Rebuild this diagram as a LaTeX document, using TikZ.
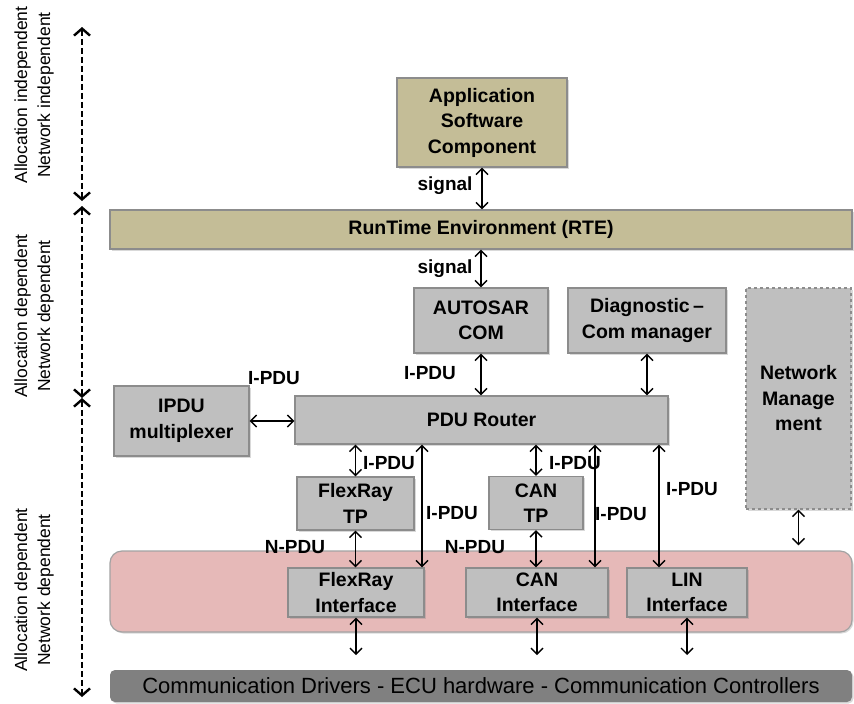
\documentclass[tikz,border=0pt]{standalone}
\usepackage{fontspec}
\setmainfont{Liberation Sans}
\usetikzlibrary{arrows.meta,shadows}
\definecolor{tanfill}{HTML}{C4BD97}
\definecolor{boxgrey}{HTML}{BFBFBF}
\definecolor{edgegrey}{HTML}{8C8C8C}
\definecolor{busred}{HTML}{E6B9B8}
\definecolor{hwgrey}{HTML}{808080}
\begin{document}
\begin{tikzpicture}[x=1pt, y=-1pt,
  every node/.style={font=\fontsize{19.5}{25.5}\selectfont\bfseries, align=center, inner sep=0pt},
  blk/.style={draw=edgegrey, line width=1.2pt, fill=boxgrey, drop shadow={shadow xshift=1.5pt, shadow yshift=-1.5pt, opacity=.3}},
  tanblk/.style={blk, fill=tanfill},
  lbl/.style={font=\fontsize{19}{23}\selectfont\bfseries},
  side/.style={font=\fontsize{17.5}{23}\selectfont, rotate=90},
  bi/.style={{Straight Barb[length=6pt,width=12pt]}-{Straight Barb[length=6pt,width=12pt]}, line width=1.4pt},
  lvl/.style={{Straight Barb[length=7pt,width=16pt]}-{Straight Barb[length=7pt,width=16pt]}, line width=2.4pt, dash pattern=on 6pt off 3pt}]
\useasboundingbox (0,0) rectangle (854,704);
% level markers on the left
\coordinate (t0) at (82,27);
\coordinate (t1) at (82,201);
\coordinate (t2) at (82,206);
\coordinate (t3) at (82,398);
\coordinate (t4) at (82,697);
\draw[lvl] (t0) -- (t1);
\draw[lvl] (t2) -- (t3);
\draw[lvl] (t3) -- (t4);
\node[side] (s1) at (34,95) {Allocation independent\\Network independent};
\node[side] (s2) at (34,316) {Allocation dependent\\Network dependent};
\node[side] (s3) at (34,590) {Allocation dependent\\Network dependent};
% upper layers
\node[tanblk, minimum width=170pt, minimum height=89pt] (asc) at (482,122.5) {Application\\Software\\Component};
\node[tanblk, minimum width=742pt, minimum height=39pt] (rte) at (481,229.5) {RunTime Environment (RTE)};
\node[blk, minimum width=134pt, minimum height=65pt] (com) at (481,320.5) {AUTOSAR\\COM};
\node[blk, minimum width=158pt, minimum height=65pt] (dcm) at (647,320.5) {Diagnostic\,--\\Com manager};
\node[blk, dashed, minimum width=105pt, minimum height=221pt] (nm) at (798.5,398.5) {Network\\Manage\\ment};
\node[blk, minimum width=135pt, minimum height=70pt] (mux) at (181.5,421) {IPDU\\multiplexer};
\node[blk, minimum width=373pt, minimum height=48pt] (router) at (481.5,420) {PDU Router};
\node[blk, minimum width=117pt, minimum height=53pt] (ftp) at (355.5,503.5) {FlexRay\\TP};
\node[blk, minimum width=94pt, minimum height=53pt] (ctp) at (536,503) {CAN\\TP};
% interface layer
\node[draw=edgegrey!80, line width=1.2pt, fill=busred, rounded corners=12pt, minimum width=742pt, minimum height=81pt,
  drop shadow={shadow xshift=1.5pt, shadow yshift=-1.5pt, opacity=.3}] (bus) at (481,591.5) {};
\node[blk, minimum width=136pt, minimum height=49pt] (fri) at (356,592.5) {FlexRay\\Interface};
\node[blk, minimum width=142pt, minimum height=49pt] (cani) at (537,592.5) {CAN\\Interface};
\node[blk, minimum width=120pt, minimum height=49pt] (lini) at (687,592.5) {LIN\\Interface};
\node[fill=hwgrey, rounded corners=5pt, minimum width=742pt, minimum height=32pt, font=\fontsize{22}{24}\selectfont,
  drop shadow={shadow xshift=1.5pt, shadow yshift=-1.5pt, opacity=.3}] (hw) at (481,686) {Communication Drivers - ECU hardware - Communication Controllers};
% connectors
\coordinate (xfr) at (422,0);
\coordinate (xcan) at (595,0);
\coordinate (xlin) at (659,0);
\coordinate (hwline) at (0,655);
\draw[bi] (asc) -- (asc |- rte.north);
\draw[bi] (rte.south -| com) -- (com);
\draw[bi] (com) -- (com |- router.north);
\draw[bi] (dcm) -- (dcm |- router.north);
\draw[bi] (mux) -- (mux -| router.west);
\draw[bi] (ftp) -- (ftp |- router.south);
\draw[bi] (ctp) -- (ctp |- router.south);
\draw[bi] (ftp) -- (ftp |- fri.north);
\draw[bi] (ctp) -- (ctp |- cani.north);
\draw[bi] (router.south -| xfr) -- (fri.north -| xfr);
\draw[bi] (router.south -| xcan) -- (cani.north -| xcan);
\draw[bi] (router.south -| xlin) -- (lini.north -| xlin);
\draw[bi, shorten >=5pt] (nm) -- (nm |- bus.north);
\draw[bi] (fri) -- (fri |- hwline);
\draw[bi] (cani) -- (cani |- hwline);
\draw[bi] (lini) -- (lini |- hwline);
% labels
\node[lbl] (sg1) at (445,186) {signal};
\node[lbl] (sg2) at (445,269) {signal};
\node[lbl] (p1) at (274,378) {I-PDU};
\node[lbl] (p2) at (430,373) {I-PDU};
\node[lbl] (p3) at (389,463) {I-PDU};
\node[lbl] (p4) at (575,463) {I-PDU};
\node[lbl] (p5) at (452,513) {I-PDU};
\node[lbl] (p6) at (621,514) {I-PDU};
\node[lbl] (p7) at (692,489) {I-PDU};
\node[lbl] (n1) at (295,547) {N-PDU};
\node[lbl] (n2) at (475,547) {N-PDU};
\end{tikzpicture}
\end{document}
